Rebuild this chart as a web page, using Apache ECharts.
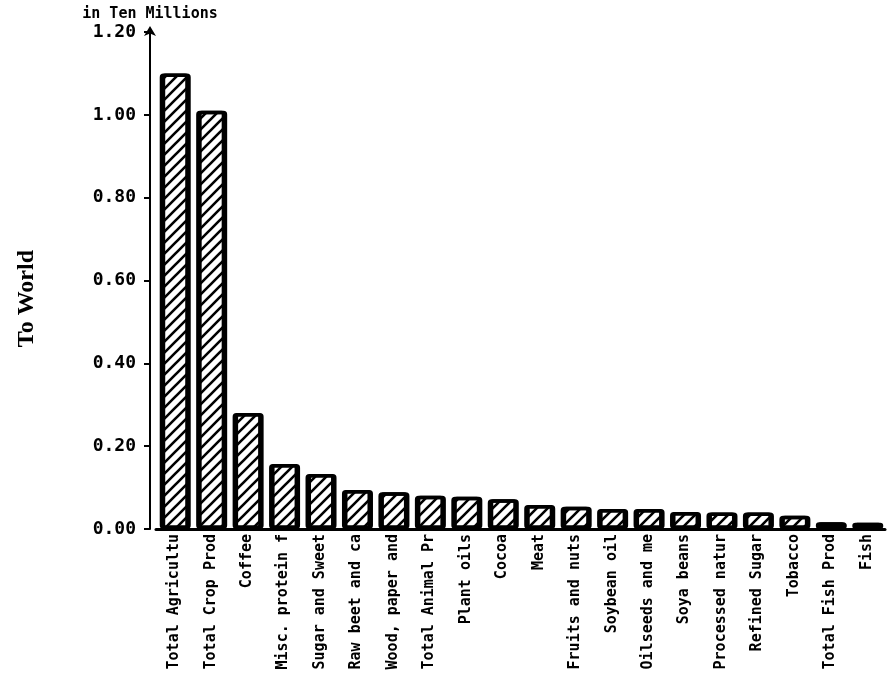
<!DOCTYPE html>
<html>
<head>
<meta charset="utf-8">
<script src="https://cdn.jsdelivr.net/npm/echarts@6/dist/echarts.min.js"></script>
<style>
  html, body { margin: 0; padding: 0; background: #fff; }
  #chart { width: 887px; height: 679px; }
</style>
</head>
<body>
<div id="chart"></div>
<script>
// categories (labels are cut off in the source, kept as shown)
const categories = [
  'Total Agricultu', 'Total Crop Prod', 'Coffee', 'Misc. protein f',
  'Sugar and Sweet', 'Raw beet and ca', 'Wood, paper and', 'Total Animal Pr',
  'Plant oils', 'Cocoa', 'Meat', 'Fruits and nuts', 'Soybean oil',
  'Oilseeds and me', 'Soya beans', 'Processed natur', 'Refined Sugar',
  'Tobacco', 'Total Fish Prod', 'Fish'
]
// values in ten millions
const values = [
  1.10, 1.01, 0.28, 0.157, 0.133, 0.094, 0.089, 0.080, 0.078, 0.072,
  0.058, 0.054, 0.048, 0.048, 0.041, 0.040, 0.040, 0.032, 0.016, 0.015
]
const yTicks = { min: 0, max: 1.2, interval: 0.2 }

// diagonal hatch fill
const makeHatch = () => {
  const c = document.createElement('canvas')
  c.width = 11
  c.height = 11
  const ctx = c.getContext('2d')
  ctx.fillStyle = '#fff'
  ctx.fillRect(0, 0, 11, 11)
  ctx.strokeStyle = '#000'
  ctx.lineWidth = 2.6
  ctx.beginPath()
  ctx.moveTo(-2, 13); ctx.lineTo(13, -2)
  ctx.moveTo(-2, 2); ctx.lineTo(2, -2)
  ctx.moveTo(9, 13); ctx.lineTo(13, 9)
  ctx.stroke()
  return c
}

const mono = 'DejaVu Sans Mono'
const chart = echarts.init(document.getElementById('chart'))

chart.setOption({
  animation: false,
  backgroundColor: '#fff',
  grid: { left: 156, right: 2, top: 32, bottom: 150 },
  xAxis: {
    type: 'category',
    data: categories,
    axisLine: { lineStyle: { color: '#000', width: 3 } },
    axisTick: { show: false },
    axisLabel: {
      rotate: 90,
      interval: 0,
      margin: 5,
      color: '#000',
      fontFamily: mono,
      fontWeight: 'bold',
      fontSize: 15
    }
  },
  yAxis: {
    type: 'value',
    min: yTicks.min,
    max: yTicks.max,
    interval: yTicks.interval,
    offset: 6,
    name: 'in Ten Millions',
    nameLocation: 'end',
    nameGap: 10,
    nameTextStyle: {
      color: '#000',
      fontFamily: mono,
      fontWeight: 'bold',
      fontSize: 15
    },
    axisLine: {
      show: true,
      symbol: ['none', 'arrow'],
      symbolSize: [9, 10],
      symbolOffset: [0, 6],
      lineStyle: { color: '#000', width: 2 }
    },
    axisTick: { show: true, length: 6, lineStyle: { color: '#000', width: 2 } },
    splitLine: { show: false },
    axisLabel: {
      margin: 14,
      color: '#000',
      fontFamily: mono,
      fontWeight: 'bold',
      fontSize: 18,
      formatter: (v) => v.toFixed(2)
    }
  },
  graphic: [
    {
      type: 'text',
      left: 15,
      top: 250,
      rotation: Math.PI / 2,
      style: {
        text: 'To World',
        fill: '#000',
        font: 'bold 24px "Liberation Serif"'
      }
    }
  ],
  series: [
    {
      type: 'bar',
      data: values,
      barWidth: 29,
      itemStyle: {
        color: { image: makeHatch(), repeat: 'repeat' },
        borderColor: '#000',
        borderWidth: 3.5,
        borderRadius: 2,
        shadowColor: '#000',
        shadowOffsetX: 2,
        shadowBlur: 0
      }
    }
  ]
})
</script>
</body>
</html>
